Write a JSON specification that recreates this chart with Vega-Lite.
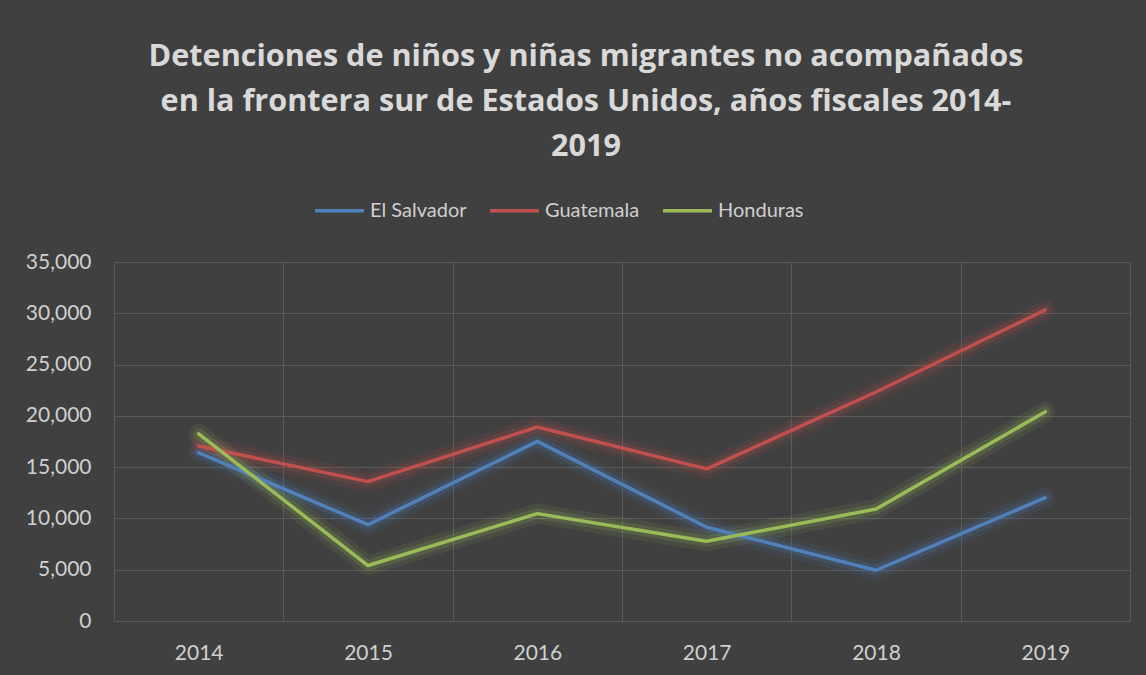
{
  "$schema": "https://vega.github.io/schema/vega-lite/v6.json",
  "autosize": {"type": "none"},
  "width": 1016,
  "height": 359,
  "padding": {"left": 114, "top": 262, "right": 16, "bottom": 54},
  "background": "#404040",
  "title": {
    "text": ["Detenciones de niños y niñas migrantes no acompañados", "en la frontera sur de Estados Unidos, años fiscales 2014-", "2019"],
    "font": "Open Sans",
    "fontSize": 30.6,
    "fontWeight": "bold",
    "color": "#D9D9D9",
    "lineHeight": 45,
    "anchor": "middle",
    "orient": "top",
    "offset": 21,
    "dx": -36
  },
  "data": {
    "values": [
      {"year": "2014", "country": "El Salvador", "value": 16404},
      {"year": "2015", "country": "El Salvador", "value": 9389},
      {"year": "2016", "country": "El Salvador", "value": 17512},
      {"year": "2017", "country": "El Salvador", "value": 9143},
      {"year": "2018", "country": "El Salvador", "value": 4949},
      {"year": "2019", "country": "El Salvador", "value": 12021},
      {"year": "2014", "country": "Guatemala", "value": 17057},
      {"year": "2015", "country": "Guatemala", "value": 13589},
      {"year": "2016", "country": "Guatemala", "value": 18913},
      {"year": "2017", "country": "Guatemala", "value": 14827},
      {"year": "2018", "country": "Guatemala", "value": 22327},
      {"year": "2019", "country": "Guatemala", "value": 30329},
      {"year": "2014", "country": "Honduras", "value": 18244},
      {"year": "2015", "country": "Honduras", "value": 5409},
      {"year": "2016", "country": "Honduras", "value": 10468},
      {"year": "2017", "country": "Honduras", "value": 7784},
      {"year": "2018", "country": "Honduras", "value": 10913},
      {"year": "2019", "country": "Honduras", "value": 20398}
    ]
  },
  "encoding": {
    "x": {
      "field": "year", "type": "ordinal", "title": null,
      "scale": {"paddingInner": 0, "paddingOuter": 0},
      "axis": {
        "labelAngle": 0, "tickBand": "extent", "grid": true, "gridColor": "#5a5a5a", "gridWidth": 1,
        "domain": false, "ticks": false, "labelFont": "Lato", "labelFontSize": 21, "labelColor": "#CFCFCF", "labelPadding": 21
      }
    },
    "y": {
      "field": "value", "type": "quantitative", "title": null,
      "scale": {"domain": [0, 35000], "nice": false},
      "axis": {
        "values": [0, 5000, 10000, 15000, 20000, 25000, 30000, 35000], "format": ",.0f",
        "grid": true, "gridColor": "#5a5a5a", "gridWidth": 1, "domain": false, "ticks": false,
        "labelFont": "Lato", "labelFontSize": 21, "labelColor": "#CFCFCF", "labelPadding": 23
      }
    },
    "color": {
      "field": "country", "type": "nominal", "title": null,
      "scale": {"domain": ["El Salvador", "Guatemala", "Honduras"], "range": ["#4F81BD", "#C0504D", "#9BBB59"]},
      "legend": {
        "orient": "none", "legendX": 199, "legendY": -78, "direction": "horizontal", "symbolType": "stroke", "symbolStrokeWidth": 3.5,
        "symbolSize": 2400, "symbolOpacity": 1, "labelFont": "Lato", "labelFontSize": 20, "labelColor": "#CFCFCF",
        "columnPadding": 16, "labelOffset": 4
      }
    }
  },
  "layer": [
    {"mark": {"type": "line", "strokeWidth": 20, "opacity": 0.1, "strokeCap": "round", "strokeJoin": "round"}},
    {"mark": {"type": "line", "strokeWidth": 11, "opacity": 0.17, "strokeCap": "round", "strokeJoin": "round"}},
    {"mark": {"type": "line", "strokeWidth": 3.5, "strokeCap": "round", "strokeJoin": "round"}}
  ],
  "config": {"view": {"stroke": null}}
}
